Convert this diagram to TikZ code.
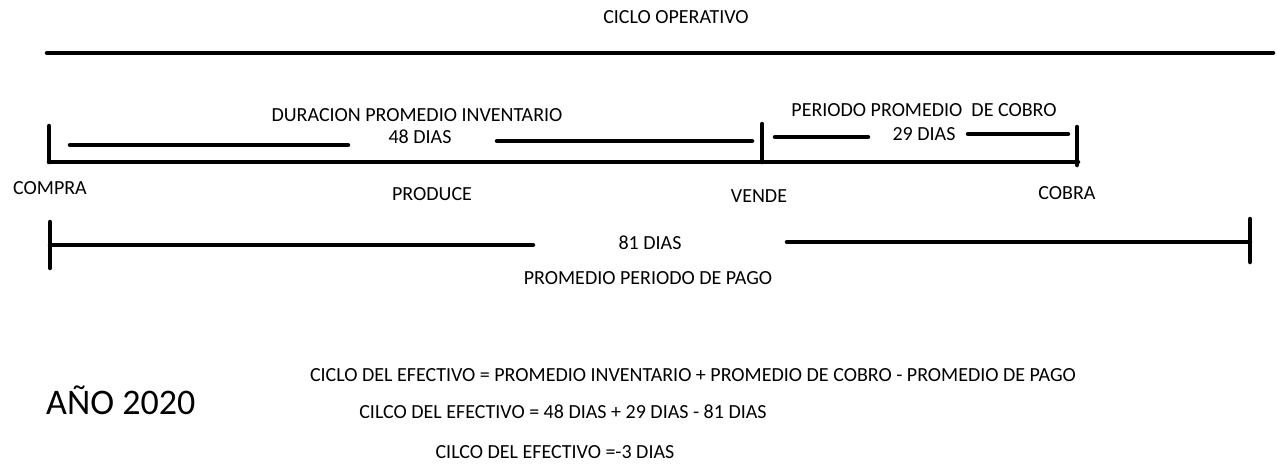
\documentclass[tikz,border=0pt]{standalone}
\usepackage{fontspec}
\setmainfont{Carlito}
\begin{document}
\begin{tikzpicture}[x=1pt,y=-1pt,
  bar/.style={line width=4.5pt,line cap=round},
  lbl/.style={font=\fontsize{20}{24}\selectfont,inner sep=0pt,anchor=center},
  eq/.style={font=\fontsize{20}{24}\selectfont,inner sep=0pt,anchor=center}]
\useasboundingbox (0,0) rectangle (1277,464);
% top
\node[lbl] (co) at (676,17) {CICLO OPERATIVO};
\coordinate (t1) at (47,53); \coordinate (t2) at (1273,53);
\draw[bar] (t1) -- (t2);
% row 1
\node[lbl] (dpi) at (417,115) {DURACION PROMEDIO INVENTARIO};
\node[lbl] (d48) at (420,137) {48 DIAS};
\coordinate (a1) at (70,145); \coordinate (a2) at (348,145);
\coordinate (a3) at (497,141); \coordinate (a4) at (752,141);
\draw[bar] (a1) -- (a2);
\draw[bar] (a3) -- (a4);
\coordinate (m1) at (49,162); \coordinate (m2) at (1078,162);
\draw[bar] (m1) -- (m2);
\coordinate (v1) at (49,126); \draw[bar] (v1) -- (m1);
\coordinate (v2t) at (762,124); \coordinate (v2b) at (762,162); \draw[bar] (v2t) -- (v2b);
\coordinate (v3t) at (1077,127); \coordinate (v3b) at (1077,165); \draw[bar] (v3t) -- (v3b);
\node[lbl] (ppc) at (924,110) {PERIODO PROMEDIO \ DE COBRO};
\node[lbl] (d29) at (924,134) {29 DIAS};
\coordinate (b1) at (775,137); \coordinate (b2) at (868,137);
\coordinate (b3) at (968,134); \coordinate (b4) at (1068,134);
\draw[bar] (b1) -- (b2);
\draw[bar] (b3) -- (b4);
% labels
\node[lbl] (compra) at (50,188) {COMPRA};
\node[lbl] (produce) at (432,194) {PRODUCE};
\node[lbl] (vende) at (759,196) {VENDE};
\node[lbl] (cobra) at (1067,193) {COBRA};
% row 2
\coordinate (p0t) at (50,222); \coordinate (p0b) at (50,268);
\draw[bar] (p0t) -- (p0b);
\coordinate (p1) at (50,245); \coordinate (p2) at (533,245);
\draw[bar] (p1) -- (p2);
\coordinate (p3) at (787,242); \coordinate (p4) at (1250,242);
\draw[bar] (p3) -- (p4);
\coordinate (p5t) at (1250,219); \coordinate (p5b) at (1250,262);
\draw[bar] (p5t) -- (p5b);
\node[lbl] (d81) at (650,243) {81 DIAS};
\node[lbl] (ppp) at (648,278) {PROMEDIO PERIODO DE PAGO};
% bottom
\node[font=\fontsize{36}{40}\selectfont,inner sep=0pt,anchor=west] (ano) at (46,400) {AÑO 2020};
\node[eq] (e1) at (693,375) {CICLO DEL EFECTIVO = PROMEDIO INVENTARIO + PROMEDIO DE COBRO - PROMEDIO DE PAGO};
\node[eq] (e2) at (563,412) {CILCO DEL EFECTIVO = 48 DIAS + 29 DIAS - 81 DIAS};
\node[eq] (e3) at (555,452) {CILCO DEL EFECTIVO =-3 DIAS};
\end{tikzpicture}
\end{document}
